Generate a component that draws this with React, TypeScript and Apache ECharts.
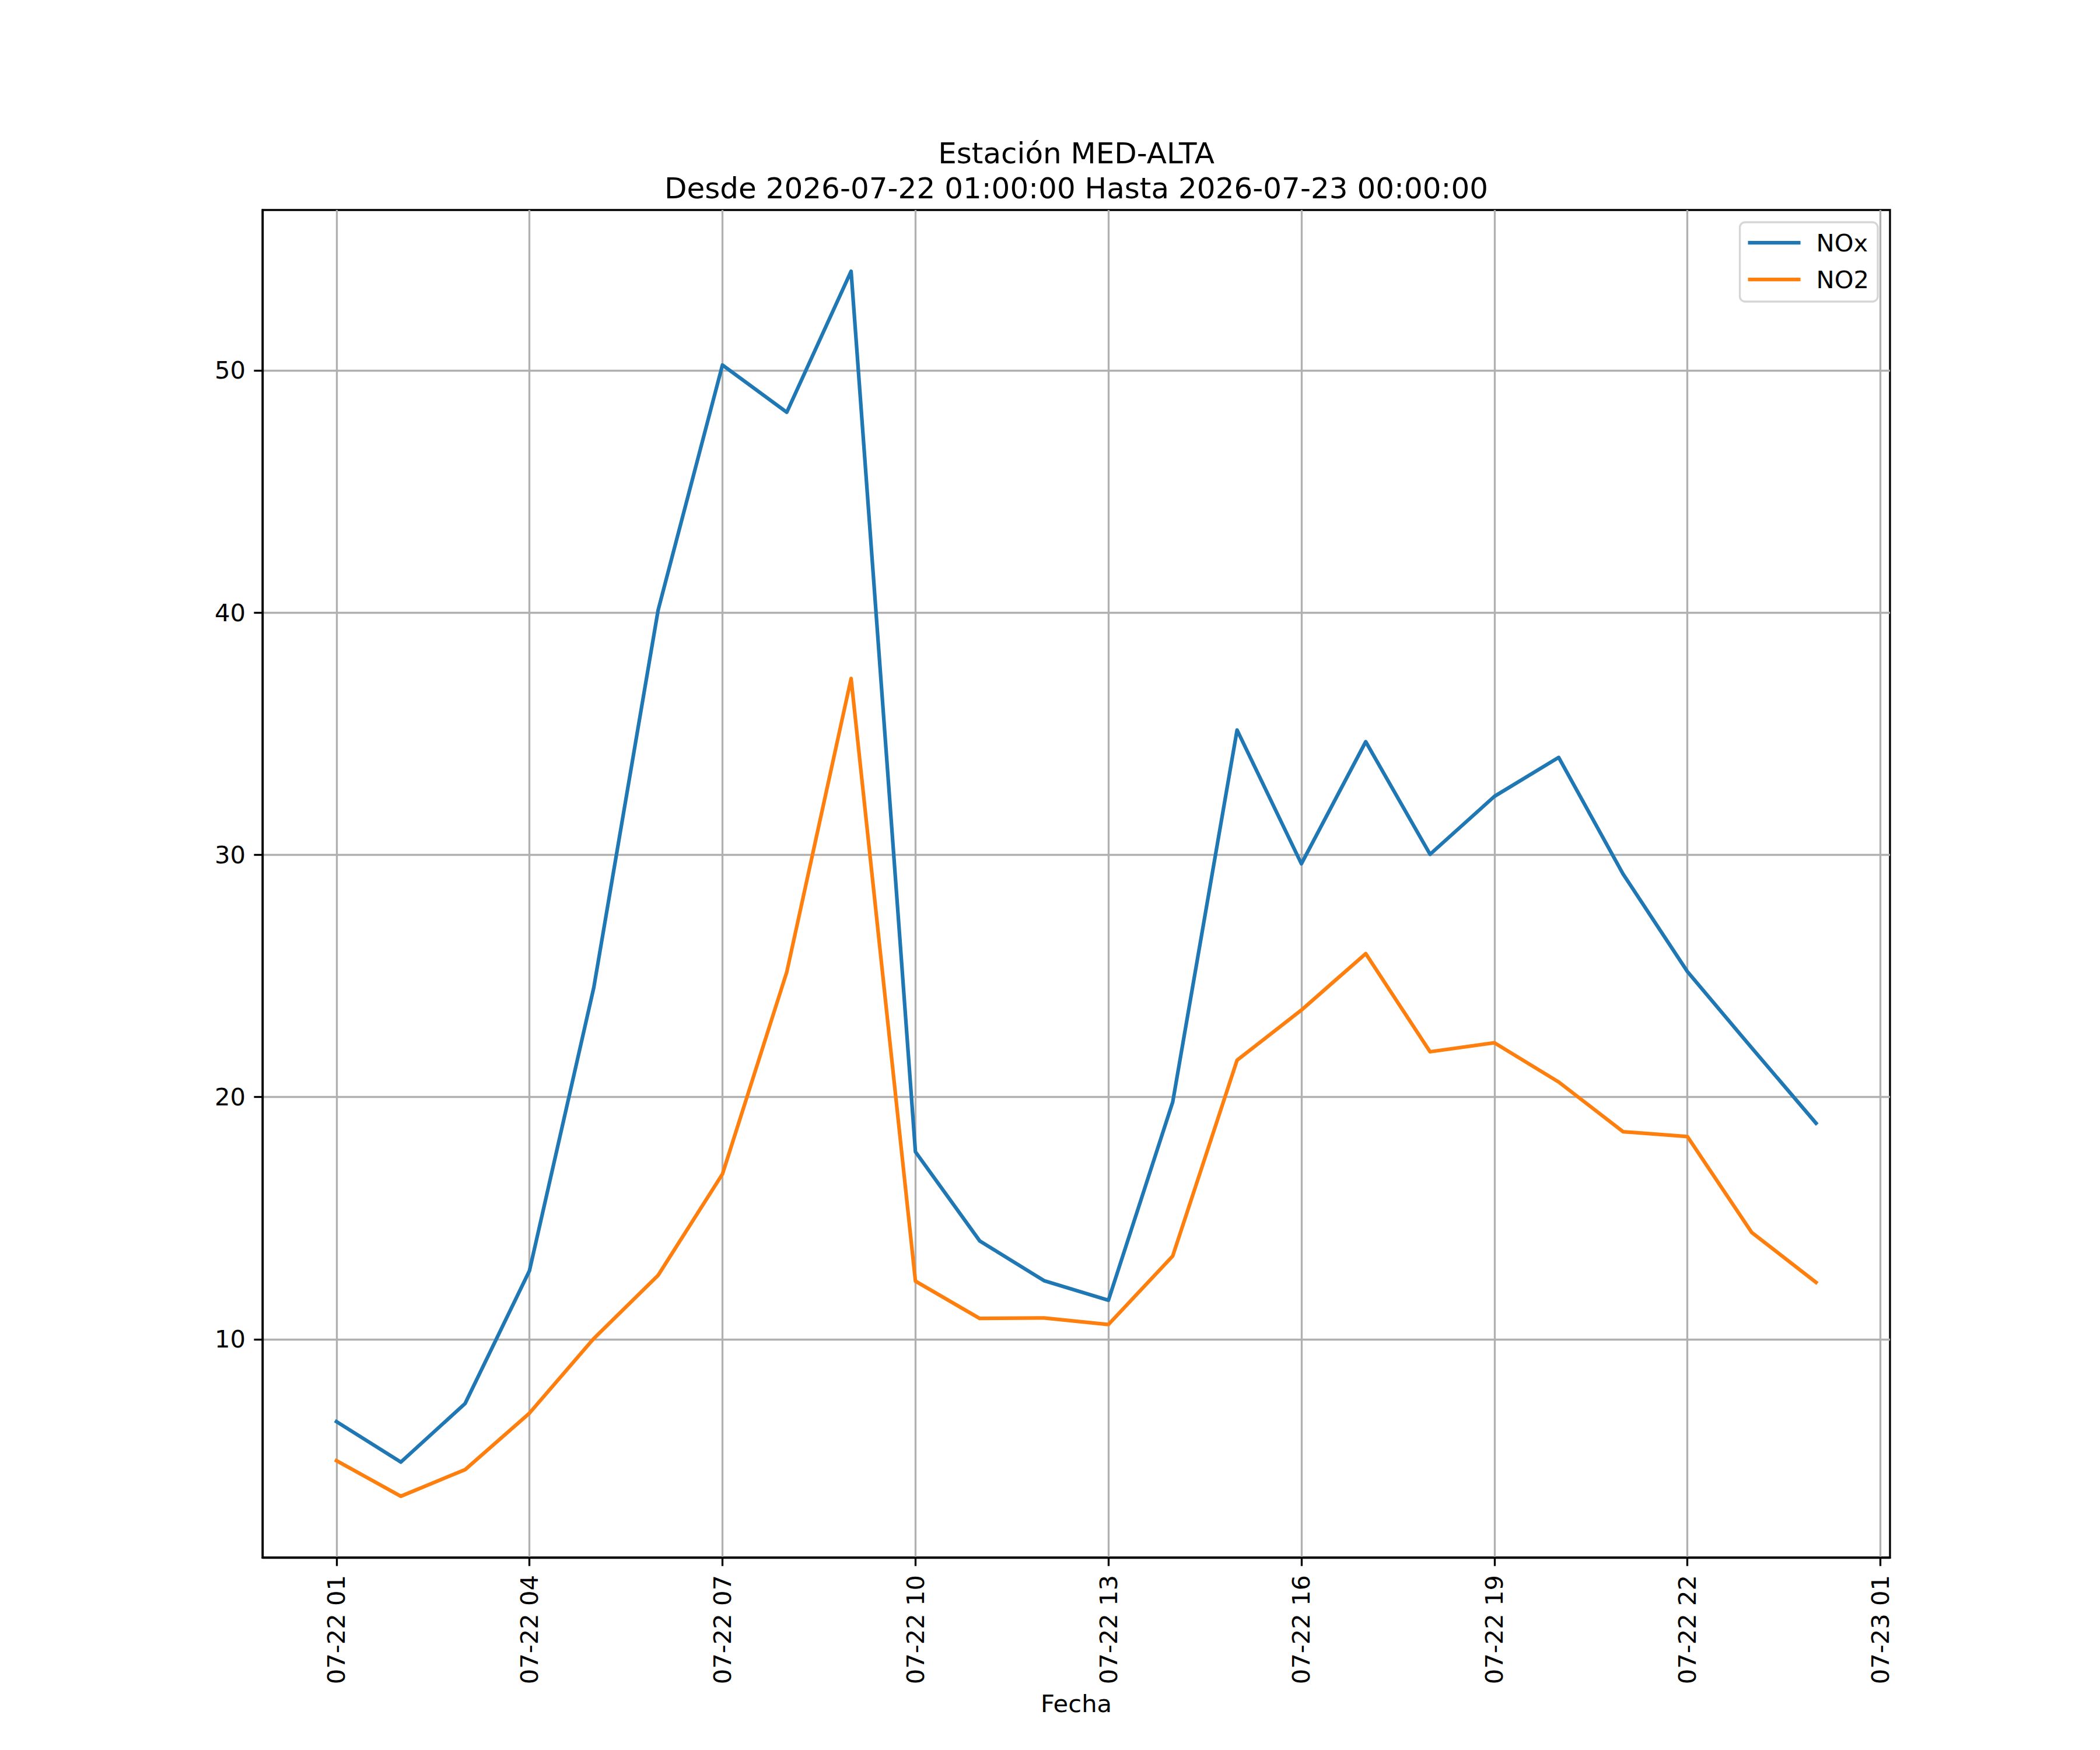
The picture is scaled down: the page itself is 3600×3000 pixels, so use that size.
import React, { useEffect, useRef } from "react";
import * as echarts from "echarts";

const titleLine1 = "Estación MED-ALTA";
const titleLine2 = "Desde 2026-07-22 01:00:00 Hasta 2026-07-23 00:00:00";
const xAxisName = "Fecha";

// hours since 2026-07-22 00:00
const hours = [1, 2, 3, 4, 5, 6, 7, 8, 9, 10, 11, 12, 13, 14, 15, 16, 17, 18, 19, 20, 21, 22, 23, 24];
const noxValues = [6.6, 4.93, 7.35, 12.83, 24.52, 40.1, 50.22, 48.27, 54.09, 17.74, 14.06, 12.42, 11.61, 19.8, 35.15, 29.63, 34.67, 30.02, 32.41, 34.02, 29.21, 25.18, 22.03, 18.92];
const no2Values = [4.99, 3.52, 4.62, 6.95, 10.03, 12.64, 16.82, 25.16, 37.28, 12.4, 10.86, 10.88, 10.61, 13.44, 21.52, 23.59, 25.92, 21.87, 22.24, 20.62, 18.57, 18.37, 14.41, 12.35];

const xTickHours = [1, 4, 7, 10, 13, 16, 19, 22, 25];
const xTickLabels = ["07-22 01", "07-22 04", "07-22 07", "07-22 10", "07-22 13", "07-22 16", "07-22 19", "07-22 22", "07-23 01"];
const yTicks = [10, 20, 30, 40, 50];

const seriesNames = ["NOx", "NO2"];
const seriesColors = ["#1f77b4", "#ff7f0e"];

const FONT = "DejaVu Sans";
const FS = 41.67;
const LW = 3.33;

export default function App() {
  const ref = useRef<HTMLDivElement>(null);

  useEffect(() => {
    document.body.style.margin = "0";
    if (!ref.current) return;
    const chart = echarts.init(ref.current, undefined, { renderer: "svg" });

    const allVals = noxValues.concat(no2Values);
    const dMin = Math.min(...allVals);
    const dMax = Math.max(...allVals);
    const yPad = 0.05 * (dMax - dMin);
    const xFirst = hours[0];
    const xLast = hours[hours.length - 1];
    const xPad = 0.05 * (xLast - xFirst);

    const toPairs = (vals: number[]) => hours.map((h, i) => [h, vals[i]]);

    chart.setOption({
      animation: false,
      backgroundColor: "#ffffff",
      textStyle: { fontFamily: FONT },
      grid: {
        left: 450,
        right: 360,
        top: 360,
        bottom: 330,
        show: true,
        borderColor: "#000000",
        borderWidth: LW,
        backgroundColor: "transparent",
      },
      graphic: [
        {
          type: "text",
          x: 1845,
          y: 263,
          style: {
            text: titleLine1,
            fontSize: 50,
            fontFamily: FONT,
            fill: "#000000",
            textAlign: "center",
            textVerticalAlign: "middle",
          },
        },
        {
          type: "text",
          x: 1845,
          y: 323,
          style: {
            text: titleLine2,
            fontSize: 50,
            fontFamily: FONT,
            fill: "#000000",
            textAlign: "center",
            textVerticalAlign: "middle",
          },
        },
      ],
      legend: {
        data: seriesNames,
        orient: "vertical",
        right: 381,
        top: 381,
        icon: "rect",
        itemWidth: 90,
        itemHeight: 6.25,
        itemGap: 15,
        padding: [11, 15, 14, 14],
        backgroundColor: "rgba(255,255,255,0.8)",
        borderColor: "#d6d6d6",
        borderWidth: LW,
        borderRadius: 9,
        textStyle: {
          fontFamily: FONT,
          fontSize: FS,
          color: "#000000",
          lineHeight: 48,
          padding: [0, 0, 0, 22],
        },
      },
      xAxis: {
        type: "value",
        min: xFirst - xPad,
        max: xLast + xPad,
        name: xAxisName,
        nameLocation: "middle",
        nameGap: 250,
        nameTextStyle: {
          fontFamily: FONT,
          fontSize: FS,
          color: "#000000",
          verticalAlign: "middle",
        },
        axisLine: { show: true, onZero: false, lineStyle: { color: "#000000", width: LW } },
        axisTick: {
          show: true,
          length: 14.6,
          lineStyle: { color: "#000000", width: LW },
          customValues: xTickHours,
        },
        axisLabel: {
          show: true,
          rotate: 90,
          margin: 30,
          fontFamily: FONT,
          fontSize: FS,
          color: "#000000",
          customValues: xTickHours,
          formatter: (v: number) => {
            const idx = xTickHours.indexOf(Math.round(v));
            return idx >= 0 ? xTickLabels[idx] : "";
          },
        },
        splitLine: { show: true, lineStyle: { color: "#b0b0b0", width: LW } },
      },
      yAxis: {
        type: "value",
        min: dMin - yPad,
        max: dMax + yPad,
        axisLine: { show: true, onZero: false, lineStyle: { color: "#000000", width: LW } },
        axisTick: {
          show: true,
          length: 14.6,
          lineStyle: { color: "#000000", width: LW },
          customValues: yTicks,
        },
        axisLabel: {
          show: true,
          margin: 29,
          fontFamily: FONT,
          fontSize: FS,
          color: "#000000",
          customValues: yTicks,
          formatter: (v: number) => (yTicks.indexOf(Math.round(v)) >= 0 ? String(Math.round(v)) : ""),
        },
        splitLine: { show: true, lineStyle: { color: "#b0b0b0", width: LW } },
      },
      series: [
        {
          name: seriesNames[0],
          type: "line",
          data: toPairs(noxValues),
          symbol: "none",
          showSymbol: false,
          color: seriesColors[0],
          lineStyle: { color: seriesColors[0], width: 6.25, join: "round", cap: "square" },
        },
        {
          name: seriesNames[1],
          type: "line",
          data: toPairs(no2Values),
          symbol: "none",
          showSymbol: false,
          color: seriesColors[1],
          lineStyle: { color: seriesColors[1], width: 6.25, join: "round", cap: "square" },
        },
      ],
    });

    return () => {
      chart.dispose();
    };
  }, []);

  return <div ref={ref} style={{ width: 3600, height: 3000 }} />;
}
